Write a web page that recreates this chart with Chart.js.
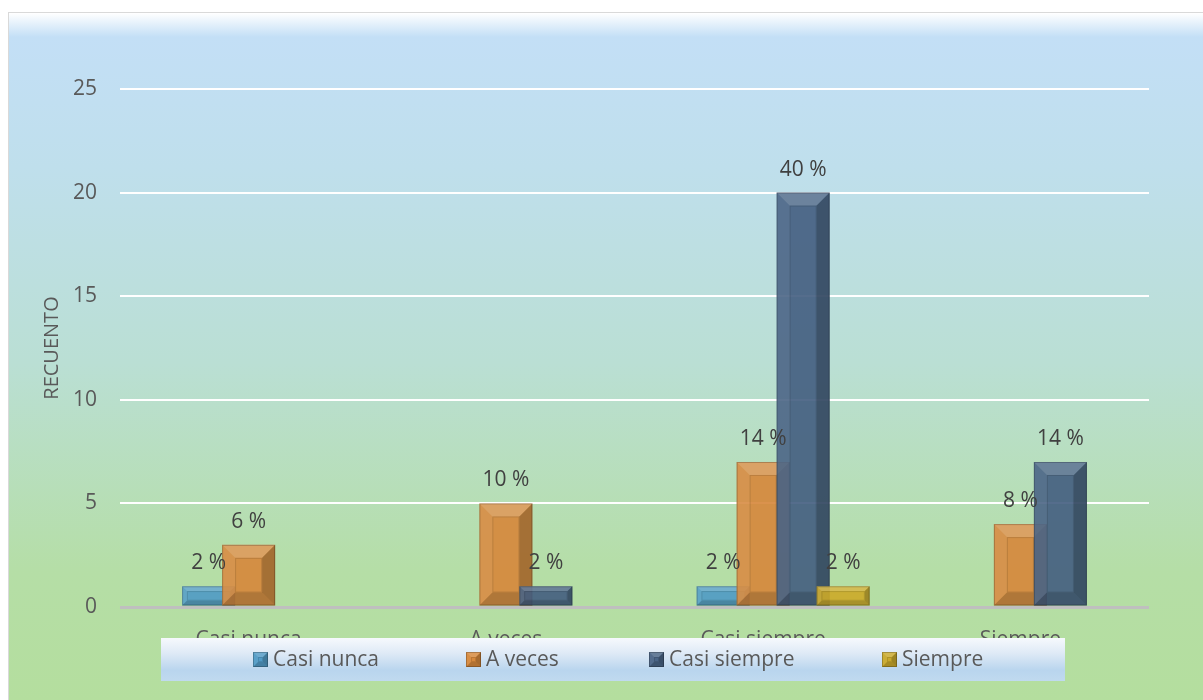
<!DOCTYPE html>
<html>
<head>
<meta charset="utf-8">
<script src="https://cdn.jsdelivr.net/npm/chart.js@4.4.0/dist/chart.umd.min.js"></script>
<style>
html,body{margin:0;padding:0;width:1203px;height:700px;overflow:hidden;background:#ffffff;}
#frame{position:absolute;left:8px;top:12px;width:1210px;height:700px;border:1px solid #d9d9d9;
background:linear-gradient(to bottom,#ffffff 0px,#c3dff6 24px,#bfdfec 22%,#badfd4 50%,#b5dea6 80%,#b4de9d 100%);}
#c{position:absolute;left:0;top:0;}
</style>
</head>
<body>
<div id="frame"></div>
<canvas id="c" width="1203" height="700"></canvas>
<script>
// ---- data ----
const categories = ['Casi nunca', 'A veces', 'Casi siempre', 'Siempre'];
const seriesNames = ['Casi nunca', 'A veces', 'Casi siempre', 'Siempre'];
const casiNunca   = [1, 0, 1, 0];
const aVeces      = [3, 5, 7, 4];
const casiSiempre = [0, 1, 20, 7];
const siempre     = [0, 0, 1, 0];
const casiNuncaPct   = ['2 %', '', '2 %', ''];
const aVecesPct      = ['6 %', '10 %', '14 %', '8 %'];
const casiSiemprePct = ['', '2 %', '40 %', '14 %'];
const siemprePct     = ['', '', '2 %', ''];
const yMin = 0, yMax = 25, yStep = 5;
const axisTitle = 'RECUENTO';

// ---- styles ----
const seriesColors = ['rgba(76,152,198,0.88)', 'rgba(214,134,58,0.9)', 'rgba(66,93,128,0.9)', 'rgba(204,170,40,0.9)'];
const seriesSolid  = ['#529bc6', '#d6883c', '#4a6586', '#c9a92c'];
const FONT = '"Open Sans", "DejaVu Sans", sans-serif';
const textColor = '#595959';
const labelColor = '#404040';

const values = [casiNunca, aVeces, casiSiempre, siempre];
const pcts = [casiNuncaPct, aVecesPct, casiSiemprePct, siemprePct];

// first (empty) dataset only reserves a slot so the group sits like Excel's overlapped layout
const datasets = [{ label: '', data: categories.map(() => null), backgroundColor: 'rgba(0,0,0,0)', borderWidth: 0 }];
seriesNames.forEach((n, i) => {
  datasets.push({ label: n, data: values[i], backgroundColor: seriesColors[i], borderWidth: 0, _pct: pcts[i], _solid: seriesSolid[i] });
});

function bevelRect(ctx, l, t, r, bot, b) {
  const poly = (pts, fill) => {
    ctx.beginPath();
    ctx.moveTo(pts[0][0], pts[0][1]);
    for (let k = 1; k < pts.length; k++) ctx.lineTo(pts[k][0], pts[k][1]);
    ctx.closePath();
    ctx.fillStyle = fill;
    ctx.fill();
  };
  poly([[l, t], [r, t], [r - b, t + b], [l + b, t + b]], 'rgba(255,255,255,0.17)');
  poly([[l, t], [l + b, t + b], [l + b, bot - b], [l, bot]], 'rgba(255,255,255,0.05)');
  poly([[r, t], [r - b, t + b], [r - b, bot - b], [r, bot]], 'rgba(0,0,0,0.22)');
  poly([[l, bot], [l + b, bot - b], [r - b, bot - b], [r, bot]], 'rgba(0,0,0,0.17)');
  ctx.lineWidth = 1;
  ctx.strokeStyle = 'rgba(0,0,0,0.22)';
  ctx.strokeRect(l + 0.5, t + 0.5, r - l - 1, bot - t - 1);
  ctx.strokeStyle = 'rgba(0,0,0,0.12)';
  ctx.strokeRect(l + b + 0.5, t + b + 0.5, Math.max(0, r - l - 2 * b - 1), Math.max(0, bot - t - 2 * b - 1));
}

const excelLook = {
  id: 'excelLook',
  beforeDatasetsDraw(chart) {
    // draw series in order so that later series lie on top (as in the reference)
    const metas = chart.getSortedVisibleDatasetMetas();
    for (const m of metas) chart._drawDataset(m);
    return false;
  },
  afterDatasetDraw(chart, args) {
    const meta = args.meta;
    if (meta.index === 0) return;
    const ctx = chart.ctx;
    ctx.save();
    meta.data.forEach(el => {
      const p = el.getProps(['x', 'y', 'base', 'width'], true);
      const l = p.x - p.width / 2, r = p.x + p.width / 2;
      const t = Math.min(p.y, p.base), bot = Math.max(p.y, p.base);
      const h = bot - t;
      if (h < 1) return;
      const b = Math.min(13, h / 4, p.width / 4);
      bevelRect(ctx, l, t, r, bot, b);
    });
    ctx.restore();
  },
  afterDraw(chart) {
    const ctx = chart.ctx;
    ctx.save();
    // data labels
    ctx.font = '21px ' + FONT;
    ctx.fillStyle = labelColor;
    ctx.textAlign = 'center';
    ctx.textBaseline = 'alphabetic';
    chart.data.datasets.forEach((ds, di) => {
      if (di === 0) return;
      const meta = chart.getDatasetMeta(di);
      meta.data.forEach((el, i) => {
        const v = ds.data[i];
        const txt = ds._pct[i];
        if (!v || !txt) return;
        ctx.fillText(txt, el.x, el.y - 17);
      });
    });
    // legend box overlapping category labels (as in the reference)
    const L = 161, T = 638, R = 1065, B = 681;
    const g = ctx.createLinearGradient(0, T, 0, B);
    g.addColorStop(0, '#f6f9fd');
    g.addColorStop(0.35, '#dfeaf6');
    g.addColorStop(0.75, '#b9d5ee');
    g.addColorStop(1, '#c0daef');
    ctx.fillStyle = g;
    ctx.fillRect(L, T, R - L, B - T);
    const itemX = [253, 466, 649, 882];
    const my = 652, ms = 15;
    ctx.textAlign = 'left';
    ctx.textBaseline = 'middle';
    chart.data.datasets.forEach((ds, di) => {
      if (di === 0) return;
      const x = itemX[di - 1];
      ctx.fillStyle = ds._solid;
      ctx.fillRect(x, my, ms, ms);
      bevelRect(ctx, x, my, x + ms, my + ms, 5);
      ctx.fillStyle = textColor;
      ctx.font = '21px ' + FONT;
      ctx.fillText(ds.label, x + ms + 5, my + ms / 2 + 1);
    });
    ctx.restore();
  }
};

new Chart(document.getElementById('c'), {
  type: 'bar',
  data: { labels: categories, datasets: datasets },
  plugins: [excelLook],
  options: {
    responsive: false,
    animation: false,
    layout: { padding: { left: 40, right: 54, top: 89, bottom: 43 } },
    datasets: { bar: { categoryPercentage: 0.7775, barPercentage: 1.325 } },
    plugins: { legend: { display: false }, tooltip: { enabled: false } },
    scales: {
      x: {
        grid: { display: false, drawTicks: false },
        border: { display: false },
        ticks: { font: { family: FONT, size: 21 }, color: textColor, padding: 20, maxRotation: 0 },
        afterFit(s) { s.height = 50; }
      },
      y: {
        min: yMin, max: yMax,
        ticks: { stepSize: yStep, font: { family: FONT, size: 21 }, color: textColor, padding: 23 },
        grid: {
          drawTicks: false,
          color: c => (c.tick && c.tick.value === 0) ? '#bfbfbf' : '#ffffff',
          lineWidth: c => (c.tick && c.tick.value === 0) ? 3 : 2
        },
        border: { display: false },
        title: { display: true, text: axisTitle, color: textColor, font: { family: FONT, size: 20 }, padding: { top: 0, bottom: 0 } },
        afterFit(s) { s.width = 80; }
      }
    }
  }
});
</script>
</body>
</html>
